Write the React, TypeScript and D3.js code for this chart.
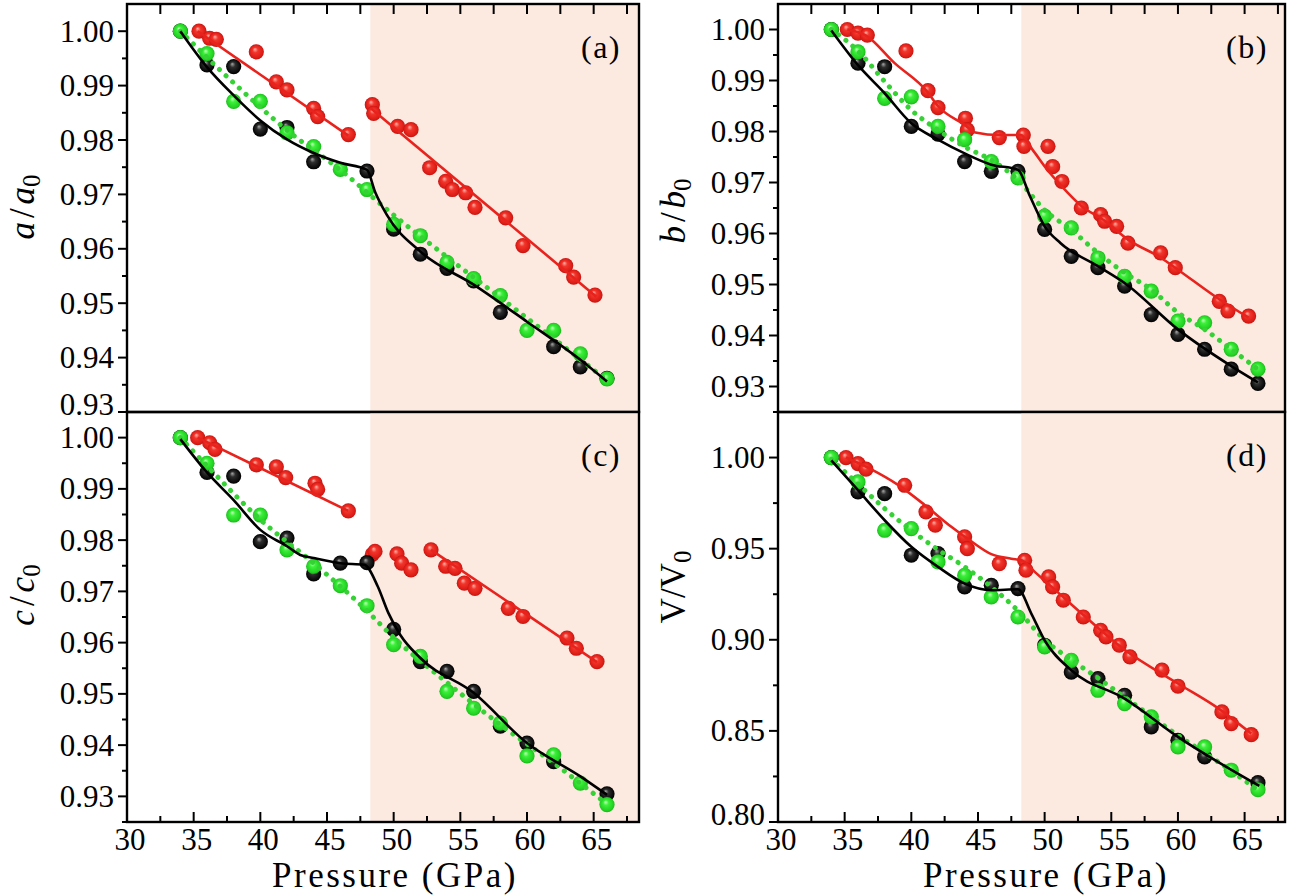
import React from "react";
import * as d3 from "d3";

type Pt = [number, number];

// ---------- axis ticks ----------
const pressureMajor = [30, 35, 40, 45, 50, 55, 60, 65];
const pressureMinor = [32.5, 37.5, 42.5, 47.5, 52.5, 57.5, 62.5, 67.5];
const transitionP = 48.25;

const ticksABC3 = [1.0, 0.99, 0.98, 0.97, 0.96, 0.95, 0.94, 0.93];
const minorABC = [0.995, 0.985, 0.975, 0.965, 0.955, 0.945, 0.935, 0.925];
const ticksD = [1.0, 0.95, 0.9, 0.85, 0.8];
const minorD = [1.025, 0.975, 0.925, 0.875, 0.825];

// ---------- panel (a) a/a0 ----------
const aRed: Pt[] = [[35.4,1.000],[36.2,0.9987],[36.7,0.9985],[39.7,0.9962],[41.2,0.9907],[42.0,0.9892],[44.0,0.9858],[44.3,0.9843],[46.6,0.9810],[48.4,0.9865],[48.5,0.9849],[50.3,0.9825],[51.3,0.9819],[52.7,0.9749],[53.9,0.9724],[54.4,0.9709],[55.4,0.9703],[56.1,0.9676],[58.4,0.9657],[59.7,0.9606],[62.9,0.9569],[63.5,0.9548],[65.1,0.9515]];
const aRedFitLow: Pt[] = [[35.3,1.000],[46.6,0.9808]];
const aRedFitHigh: Pt[] = [[48.3,0.9858],[65.2,0.9512]];
const aBlack: Pt[] = [[34,1.000],[36,0.9938],[38,0.9935],[40,0.9820],[42,0.9823],[44,0.9760],[48,0.9743],[50,0.9636],[52,0.9590],[54,0.9564],[56,0.9541],[58,0.9483],[62,0.9420],[64,0.9383],[66,0.9362]];
const aBlackFit: Pt[] = [[34,1.000],[36,0.9934],[38,0.9882],[40,0.9836],[42,0.9801],[44,0.9776],[46,0.9758],[48,0.9745],[48.6,0.9705],[49.5,0.9662],[52,0.9595],[56,0.9534],[60,0.9466],[64,0.9396],[66,0.9356]];
const aGreen: Pt[] = [[34,1.000],[36,0.9959],[38,0.9871],[40,0.9871],[42,0.9813],[44,0.9788],[46,0.9746],[48,0.9709],[50,0.9645],[52,0.9624],[54,0.9575],[56,0.9545],[58,0.9514],[60,0.9450],[62,0.9450],[64,0.9407],[66,0.9361]];
const aGreenFit: Pt[] = [[34,1.000],[38,0.9905],[42,0.9818],[46,0.9745],[50,0.9662],[54,0.9585],[58,0.9510],[62,0.9435],[66,0.9358]];

// ---------- panel (b) b/b0 ----------
const bRed: Pt[] = [[35.2,1.000],[36.0,0.9993],[36.7,0.9989],[39.6,0.9958],[41.25,0.9880],[42.0,0.9847],[44.06,0.9826],[44.2,0.9803],[46.6,0.9788],[48.4,0.9793],[48.45,0.9771],[50.25,0.9771],[50.6,0.9731],[51.3,0.9702],[52.75,0.9650],[54.2,0.9637],[54.5,0.9624],[55.4,0.9614],[56.25,0.9581],[58.7,0.9562],[59.8,0.9533],[63.1,0.9467],[63.75,0.9448],[65.3,0.9438]];
const bRedFit: Pt[] = [[35.2,1.000],[36.6,0.9988],[38.75,0.9934],[41.2,0.9878],[42.0,0.9850],[44.0,0.9813],[44.8,0.9798],[46.6,0.9793],[48.2,0.9793],[49.1,0.9764],[50.2,0.9725],[51.3,0.9692],[52.8,0.9653],[54.4,0.9627],[56.25,0.9588],[58.75,0.9552],[60,0.9529],[63.1,0.9471],[65.3,0.9435]];
const bBlack: Pt[] = [[34,1.000],[36,0.9934],[38,0.9927],[40,0.9810],[42,0.9795],[44,0.9741],[46,0.9722],[48,0.9722],[50,0.9608],[52,0.9555],[54,0.9533],[56,0.9497],[58,0.9441],[60,0.9402],[62,0.9373],[64,0.9334],[66,0.9306]];
const bBlackFit: Pt[] = [[34,0.9998],[36,0.9930],[38,0.9875],[40,0.9816],[42,0.9784],[44,0.9757],[46,0.9735],[48,0.9725],[48.9,0.9673],[50,0.9614],[51.2,0.9581],[54,0.9536],[56,0.9503],[60,0.9412],[64,0.9340],[66,0.9308]];
const bGreen: Pt[] = [[34,1.000],[36,0.9956],[38,0.9865],[40,0.9868],[42,0.9810],[44,0.9784],[46,0.9741],[48,0.9709],[50,0.9634],[52,0.9611],[54,0.9552],[56,0.9516],[58,0.9487],[60,0.9428],[62,0.9425],[64,0.9373],[66,0.9334]];
const bGreenFit: Pt[] = [[34,1.000],[36,0.9958],[38,0.9898],[40,0.9842],[42,0.9803],[44,0.9770],[46,0.9744],[48,0.9705],[50,0.9646],[52,0.9607],[54,0.9562],[56,0.9523],[58,0.9490],[60,0.9445],[62,0.9412],[64,0.9373],[66,0.9334]];

// ---------- panel (c) c/c0 ----------
const cRed: Pt[] = [[35.3,1.000],[36.2,0.9990],[36.6,0.9977],[39.7,0.9947],[41.2,0.9943],[41.9,0.9922],[44.1,0.9911],[44.3,0.9899],[46.6,0.9857],[48.4,0.9772],[48.6,0.9778],[50.25,0.9773],[50.6,0.9755],[51.3,0.9742],[52.8,0.9781],[53.9,0.9749],[54.6,0.9745],[55.3,0.9716],[56.1,0.9706],[58.6,0.9667],[59.7,0.9651],[63.0,0.9609],[63.7,0.9589],[65.25,0.9563]];
const cRedFitLow: Pt[] = [[35.3,1.000],[46.6,0.9857]];
const cRedFitHigh: Pt[] = [[52.8,0.9781],[65.25,0.9562]];
const cBlack: Pt[] = [[34,1.000],[36,0.9932],[38,0.9925],[40,0.9797],[42,0.9804],[44,0.9734],[46,0.9755],[48,0.9756],[50,0.9626],[52,0.9563],[54,0.9544],[56,0.9505],[58,0.9437],[60,0.9404],[62,0.9368],[66,0.9305]];
const cBlackFit: Pt[] = [[34,0.9997],[36,0.9932],[38,0.9878],[40,0.9820],[42,0.9788],[43,0.9771],[44,0.9765],[46,0.9755],[47.8,0.9752],[48.8,0.9710],[49.6,0.9658],[50.5,0.9615],[52,0.9570],[56,0.9502],[60,0.9404],[64,0.9339],[66,0.9303]];
const cGreen: Pt[] = [[34,1.000],[36,0.9950],[38,0.9849],[40,0.9849],[42,0.9781],[44,0.9749],[46,0.9711],[48,0.9672],[50,0.9596],[52,0.9573],[54,0.9505],[56,0.9472],[58,0.9443],[60,0.9379],[62,0.9381],[64,0.9326],[66,0.9284]];
const cGreenFit: Pt[] = [[34,1.000],[36,0.9945],[40,0.9840],[44,0.9755],[48,0.9662],[50,0.9610],[54,0.9522],[58,0.9440],[62,0.9365],[66,0.9285]];

// ---------- panel (d) V/V0 ----------
const dRed: Pt[] = [[35.1,1.000],[36.0,0.9967],[36.6,0.9936],[39.5,0.9848],[41.1,0.9702],[41.8,0.9629],[44.0,0.9565],[44.2,0.9500],[46.6,0.9418],[48.5,0.9436],[48.6,0.9382],[50.3,0.9345],[50.6,0.9290],[51.4,0.9217],[52.9,0.9125],[54.2,0.9052],[54.6,0.9016],[55.6,0.8970],[56.4,0.8906],[58.8,0.8833],[60.0,0.8745],[63.3,0.8604],[64.0,0.8540],[65.5,0.8479]];
const dRedFit: Pt[] = [[35.1,1.000],[37,0.9935],[39,0.9850],[41,0.9740],[43,0.9620],[44.5,0.9540],[46,0.9470],[47.5,0.9445],[48.3,0.9435],[49.3,0.9370],[51,0.9260],[53,0.9130],[56,0.8945],[60,0.8760],[63,0.8625],[65.5,0.8485]];
const dBlack: Pt[] = [[34,1.000],[36,0.9812],[38,0.9802],[40,0.9464],[42,0.9473],[44,0.9290],[46,0.9299],[48,0.9281],[50,0.8970],[52,0.8823],[54,0.8787],[56,0.8695],[58,0.8522],[60,0.8448],[62,0.8357],[66,0.8216]];
const dBlackFit: Pt[] = [[34,0.9985],[36,0.9821],[38,0.9656],[40,0.9510],[42,0.9400],[44,0.9308],[46,0.9272],[48,0.9277],[49,0.9144],[50,0.8997],[52,0.8833],[56,0.8677],[60,0.8467],[66.1,0.8198]];
const dGreen: Pt[] = [[34,1.000],[36,0.9866],[38,0.9601],[40,0.9610],[42,0.9427],[44,0.9354],[46,0.9235],[48,0.9125],[50,0.8961],[52,0.8887],[54,0.8723],[56,0.8650],[58,0.8577],[60,0.8412],[62,0.8412],[64,0.8284],[66,0.8177]];
const dGreenFit: Pt[] = [[34,0.999],[36,0.9855],[38,0.9720],[40,0.9600],[42,0.9495],[44,0.9400],[46,0.9290],[48,0.9160],[50,0.9000],[52,0.8890],[54,0.8790],[56,0.8685],[58,0.8580],[60,0.8475],[62,0.8380],[64,0.8280],[66,0.8175]];

// ---------- layout ----------
const FONT = "Liberation Serif, DejaVu Serif, serif";
const RED = "#e8231d";
const GREEN_LINE = "#35d135";
const SHADE = "#fce9e0";

type PanelCfg = {
  key: string;
  left: number; right: number; top: number; bottom: number;
  xMax: number;
  yDomain: [number, number];
  yTicks: number[];
  yMinor: number[];
  topTicks: boolean;
  bottomLabels: boolean;
  letter: string;
  titleMain: string;
  titleItalic: boolean;
  titleGap: number;
  titleY: number;
  red: Pt[]; black: Pt[]; green: Pt[];
  redFits: Pt[][]; blackFit: Pt[]; greenFit: Pt[];
};

const panels: PanelCfg[] = [
  { key: "a", left: 127, right: 639, top: 4, bottom: 412, xMax: 68.4, yDomain: [0.93, 1.005], yTicks: ticksABC3, yMinor: minorABC.slice(0, 7), topTicks: true, bottomLabels: false, letter: "(a)", titleMain: "a", titleItalic: true, titleGap: 4, titleY: 207, red: aRed, black: aBlack, green: aGreen, redFits: [aRedFitLow, aRedFitHigh], blackFit: aBlackFit, greenFit: aGreenFit },
  { key: "b", left: 778, right: 1285, top: 4, bottom: 412, xMax: 68.03, yDomain: [0.925, 1.005], yTicks: ticksABC3, yMinor: minorABC, topTicks: true, bottomLabels: false, letter: "(b)", titleMain: "b", titleItalic: true, titleGap: 4, titleY: 211, red: bRed, black: bBlack, green: bGreen, redFits: [bRedFit], blackFit: bBlackFit, greenFit: bGreenFit },
  { key: "c", left: 127, right: 639, top: 412, bottom: 822, xMax: 68.4, yDomain: [0.925, 1.005], yTicks: ticksABC3, yMinor: minorABC, topTicks: false, bottomLabels: true, letter: "(c)", titleMain: "c", titleItalic: true, titleGap: 4, titleY: 595, red: cRed, black: cBlack, green: cGreen, redFits: [cRedFitLow, cRedFitHigh], blackFit: cBlackFit, greenFit: cGreenFit },
  { key: "d", left: 778, right: 1285, top: 412, bottom: 822, xMax: 68.03, yDomain: [0.8, 1.025], yTicks: ticksD, yMinor: minorD.slice(1), topTicks: false, bottomLabels: true, letter: "(d)", titleMain: "V", titleItalic: false, titleGap: 0, titleY: 587, red: dRed, black: dBlack, green: dGreen, redFits: [dRedFit], blackFit: dBlackFit, greenFit: dGreenFit },
];

function Panel({ p }: { p: PanelCfg }) {
  const x = d3.scaleLinear().domain([30, p.xMax]).range([p.left, p.right]);
  const y = d3.scaleLinear().domain(p.yDomain).range([p.bottom, p.top]);
  const line = d3.line<Pt>().x((d) => x(d[0])).y((d) => y(d[1])).curve(d3.curveMonotoneX);
  const fmt = d3.format(".2f");
  const R = 7.6;
  const titleX = p.left - 93;
  const txt = { fontFamily: FONT };
  return (
    <g>
      <rect x={x(transitionP)} y={p.top} width={p.right - x(transitionP)} height={p.bottom - p.top} fill={SHADE} />
      {p.red.map((d, i) => <circle key={"r" + i} cx={x(d[0])} cy={y(d[1])} r={R} fill="url(#ballRed)" />)}
      {p.black.map((d, i) => <circle key={"k" + i} cx={x(d[0])} cy={y(d[1])} r={R} fill="url(#ballBlack)" />)}
      {p.green.map((d, i) => <circle key={"g" + i} cx={x(d[0])} cy={y(d[1])} r={R} fill="url(#ballGreen)" />)}
      {p.redFits.map((f, i) => <path key={"rf" + i} d={line(f) || ""} fill="none" stroke={RED} strokeWidth={2.6} />)}
      <path d={line(p.greenFit) || ""} fill="none" stroke={GREEN_LINE} strokeWidth={5} strokeDasharray="0.1 9" strokeLinecap="round" />
      <path d={line(p.blackFit) || ""} fill="none" stroke="#000" strokeWidth={2.6} />
      <rect x={p.left} y={p.top} width={p.right - p.left} height={p.bottom - p.top} fill="none" stroke="#000" strokeWidth={2.4} />
      {p.yTicks.map((t) => {
        const yy = y(t);
        const ly = Math.min(yy, p.bottom - 8);
        return (
          <g key={"yt" + t}>
            <line x1={p.left - 9} x2={p.left} y1={yy} y2={yy} stroke="#000" strokeWidth={2} />
            <text x={p.left - 13} y={ly} dy="0.34em" textAnchor="end" style={txt} fontSize={31} fill="#000">{fmt(t)}</text>
          </g>
        );
      })}
      {p.yMinor.map((t) => (
        <line key={"ym" + t} x1={p.left - 5} x2={p.left} y1={y(t)} y2={y(t)} stroke="#000" strokeWidth={2} />
      ))}
      {p.topTicks && pressureMajor.concat(pressureMinor).filter((t) => t > 30).map((t) => (
        <line key={"xt" + t} x1={x(t)} x2={x(t)} y1={p.top} y2={p.top + 10} stroke="#000" strokeWidth={2} />
      ))}
      {p.bottomLabels && pressureMajor.filter((t) => t > 30).map((t) => (
        <line key={"xb" + t} x1={x(t)} x2={x(t)} y1={p.bottom} y2={p.bottom - 10} stroke="#000" strokeWidth={2} />
      ))}
      {p.bottomLabels && pressureMinor.map((t) => (
        <line key={"xbm" + t} x1={x(t)} x2={x(t)} y1={p.bottom} y2={p.bottom - 6} stroke="#000" strokeWidth={2} />
      ))}
      {p.bottomLabels && pressureMajor.map((t) => (
        <text key={"xl" + t} x={x(t) + 3} y={p.bottom + 28} textAnchor="middle" style={txt} fontSize={31} fill="#000">{t}</text>
      ))}
      {p.bottomLabels && (
        <text x={p.left + 268} y={887} textAnchor="middle" style={txt} fontSize={35} letterSpacing={2.5} fill="#000">Pressure (GPa)</text>
      )}
      <text x={p.right - 38} y={p.top + 43} dy="0.35em" textAnchor="middle" style={txt} fontSize={32} letterSpacing={1.5} fill="#000">{p.letter}</text>
      <text transform={`translate(${titleX},${p.titleY}) rotate(-90)`} textAnchor="middle" style={txt} fontSize={35} fill="#000">
        <tspan fontStyle={p.titleItalic ? "italic" : "normal"}>{p.titleMain}</tspan>
        <tspan dx={p.titleGap}>/</tspan>
        <tspan dx={p.titleGap} fontStyle={p.titleItalic ? "italic" : "normal"}>{p.titleMain}</tspan>
        <tspan fontSize={25} dy={6}>0</tspan>
      </text>
    </g>
  );
}

export default function App() {
  return (
    <svg width={1296} height={896} viewBox="0 0 1296 896" style={{ position: "absolute", left: 0, top: 0, background: "#fff" }}>
      <defs>
        <radialGradient id="ballRed" cx="50%" cy="50%" r="50%" fx="40%" fy="32%">
          <stop offset="0" stopColor="#ffb3aa" />
          <stop offset="0.35" stopColor="#f2362c" />
          <stop offset="0.85" stopColor="#dc1c16" />
          <stop offset="1" stopColor="#c41410" />
        </radialGradient>
        <radialGradient id="ballBlack" cx="50%" cy="50%" r="50%" fx="40%" fy="32%">
          <stop offset="0" stopColor="#a8a8a8" />
          <stop offset="0.35" stopColor="#2e2e2e" />
          <stop offset="0.85" stopColor="#0a0a0a" />
          <stop offset="1" stopColor="#000" />
        </radialGradient>
        <radialGradient id="ballGreen" cx="50%" cy="50%" r="50%" fx="40%" fy="32%">
          <stop offset="0" stopColor="#c8ffc0" />
          <stop offset="0.35" stopColor="#3cf03a" />
          <stop offset="0.85" stopColor="#22d222" />
          <stop offset="1" stopColor="#18b818" />
        </radialGradient>
      </defs>
      <rect x={0} y={0} width={1296} height={896} fill="#fff" />
      {panels.map((p) => <Panel key={p.key} p={p} />)}
    </svg>
  );
}
